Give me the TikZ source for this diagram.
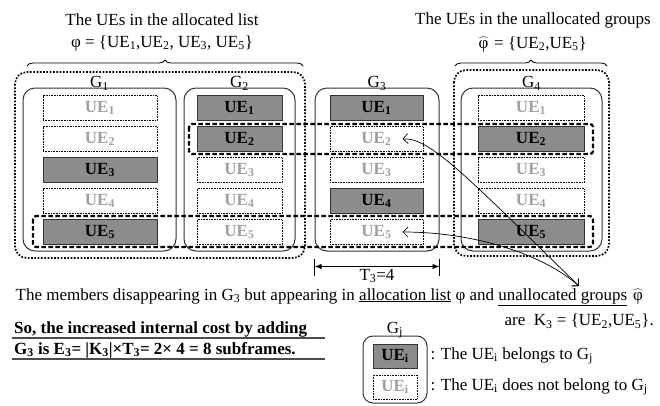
\documentclass[tikz,border=0pt]{standalone}
\usepackage{fontspec}
\setmainfont{Liberation Serif}
\usetikzlibrary{positioning,calc,arrows.meta,decorations.pathreplacing}
\definecolor{uefill}{RGB}{140,140,140}
\definecolor{uetext}{RGB}{160,160,160}
\newcommand{\ue}[1]{UE\textsubscript{#1}}
\newcommand{\phihat}{$\widehat{\mbox{\kern1.5pt φ\kern1.5pt}}$}
\begin{document}
\begin{tikzpicture}[x=1pt, y=-1pt, font=\fontsize{17}{20}\selectfont, inner sep=1pt,
    uein/.style={draw=black!80, fill=uefill, line width=0.6pt, minimum height=25pt, inner sep=0pt, font=\fontsize{17}{20}\selectfont\bfseries},
    uenot/.style={draw, densely dotted, line width=0.6pt, text=uetext, minimum height=25pt, inner sep=0pt, font=\fontsize{17}{20}\selectfont\bfseries},
    grpbox/.style={draw=black!80, line width=1pt, rounded corners=12pt, minimum height=163pt, inner sep=0pt},
    listbox/.style={draw, line width=1.7pt, dash pattern=on 1.7pt off 1.6pt, rounded corners=12pt},
    rowbox/.style={draw, line width=2.2pt, dash pattern=on 4.5pt off 2.5pt, rounded corners=3pt},
    member/.style={{Straight Barb[length=5pt]}-{Straight Barb[length=5pt]}, line width=0.7pt},
    costline/.style={line width=1.5pt, black!70},
    legtext/.style={font=\fontsize{17}{20}\selectfont}]
  \useasboundingbox (0,0) rectangle (660,405);

  % titles and braces
  \node (alloctitle) at (162,20) {The UEs in the allocated list};
  \node (allocset) at (162,43) {φ = \{\ue1,\ue2, \ue3, \ue5\}};
  \node (unalloctitle) at (533,20) {The UEs in the unallocated groups};
  \node (unallocset) at (532,44) {\phihat{} = \{\ue2,\ue5\}};
  \draw[decorate, decoration={brace, amplitude=6pt}, line width=0.8pt] (27,66) -- (303,66);
  \draw[decorate, decoration={brace, amplitude=6pt}, line width=0.8pt] (455,66) -- (607,66);

  % groups
  \foreach \g/\cx/\w in {1/99.5/153, 2/239.5/111, 3/377/124, 4/531.5/141}
    \node[grpbox, minimum width=\w, label={[label distance=-4pt]above:G\textsubscript{\g}}] (g\g) at (\cx,169.5) {};

  % UEs of each group
  \foreach \g/\cx/\w/\rows in {1/100/114/{1/uenot,2/uenot,3/uein,4/uenot,5/uein},
                               2/239.5/85/{1/uein,2/uein,3/uenot,4/uenot,5/uenot},
                               3/376.5/93/{1/uein,2/uenot,3/uenot,4/uein,5/uenot},
                               4/531/106/{1/uenot,2/uein,3/uenot,4/uenot,5/uein}}
    \foreach \r/\st in \rows
      \node[\st, minimum width=\w] (g\g ue\r) at (\cx,77+31*\r) {\ue{\r}};

  % allocated list and unallocated groups
  \draw[listbox] (15,72) rectangle (305,258);
  \draw[listbox] (454,70) rectangle (609,256);

  % rows of UE2 and UE5
  \draw[rowbox] (189,124) rectangle (593,154);
  \draw[rowbox] (33,216) rectangle (593,247);

  % T3
  \draw[line width=0.8pt] ($(g3.south west)+(0,7)$) -- ($(g3.south west)+(0,24)$);
  \draw[line width=0.8pt] ($(g3.south east)+(0,7)$) -- ($(g3.south east)+(0,24)$);
  \draw[{Latex[length=7pt]}-{Latex[length=7pt]}, line width=0.8pt] ($(g3.south west)+(0,15)$) -- ($(g3.south east)+(0,15)$) node[midway, below=1pt] {T\textsubscript{3}=4};

  % members of K3
  \coordinate (kset) at (579,286);
  \draw[member] ([xshift=26pt]g3ue2.center) .. controls (430,137) and (470,180) .. (kset);
  \draw[member] ([xshift=26pt]g3ue5.center) .. controls (470,232) and (540,252) .. (kset);

  \node (members) at (330,297) {The members disappearing in G\textsubscript{3} but appearing in \underline{allocation list} φ and \underline{unallocated groups} \phihat};
  \node[anchor=east] (ksettext) at (655,321) {are \ K\textsubscript{3} = \{\ue2,\ue5\}.};

  % cost
  \node[anchor=base west, font=\fontsize{17}{20}\selectfont\bfseries] (cost1) at (13,333) {So, the increased internal cost by adding};
  \node[anchor=base west, font=\fontsize{17}{20}\selectfont\bfseries] (cost2) at (13,354) {G\textsubscript{3} is E\textsubscript{3}= |K\textsubscript{3}|×T\textsubscript{3}= 2× 4 = 8 subframes.};
  \draw[costline] ($(cost1.base west)+(-1,5)$) -- ($(cost1.base west)+(312,5)$);
  \draw[costline] ($(cost2.base west)+(-1,5)$) -- ($(cost2.base west)+(312,5)$);

  % legend
  \node[grpbox, minimum width=64pt, minimum height=67pt, rounded corners=10pt, label={[label distance=-4pt]above:G\textsubscript{j}}] (leggrp) at (395,369.5) {};
  \node[uein, minimum width=44pt, minimum height=24pt] (legin) at (395,356) {\ue{i}};
  \node[uenot, minimum width=44pt, minimum height=24pt] (legnot) at (395,387) {\ue{i}};
  \node[legtext, right=12pt of legin] (legintext) {: The \ue{i} belongs to G\textsubscript{j}};
  \node[legtext, right=12pt of legnot] (legnottext) {: The \ue{i} does not belong to G\textsubscript{j}};
\end{tikzpicture}
\end{document}
